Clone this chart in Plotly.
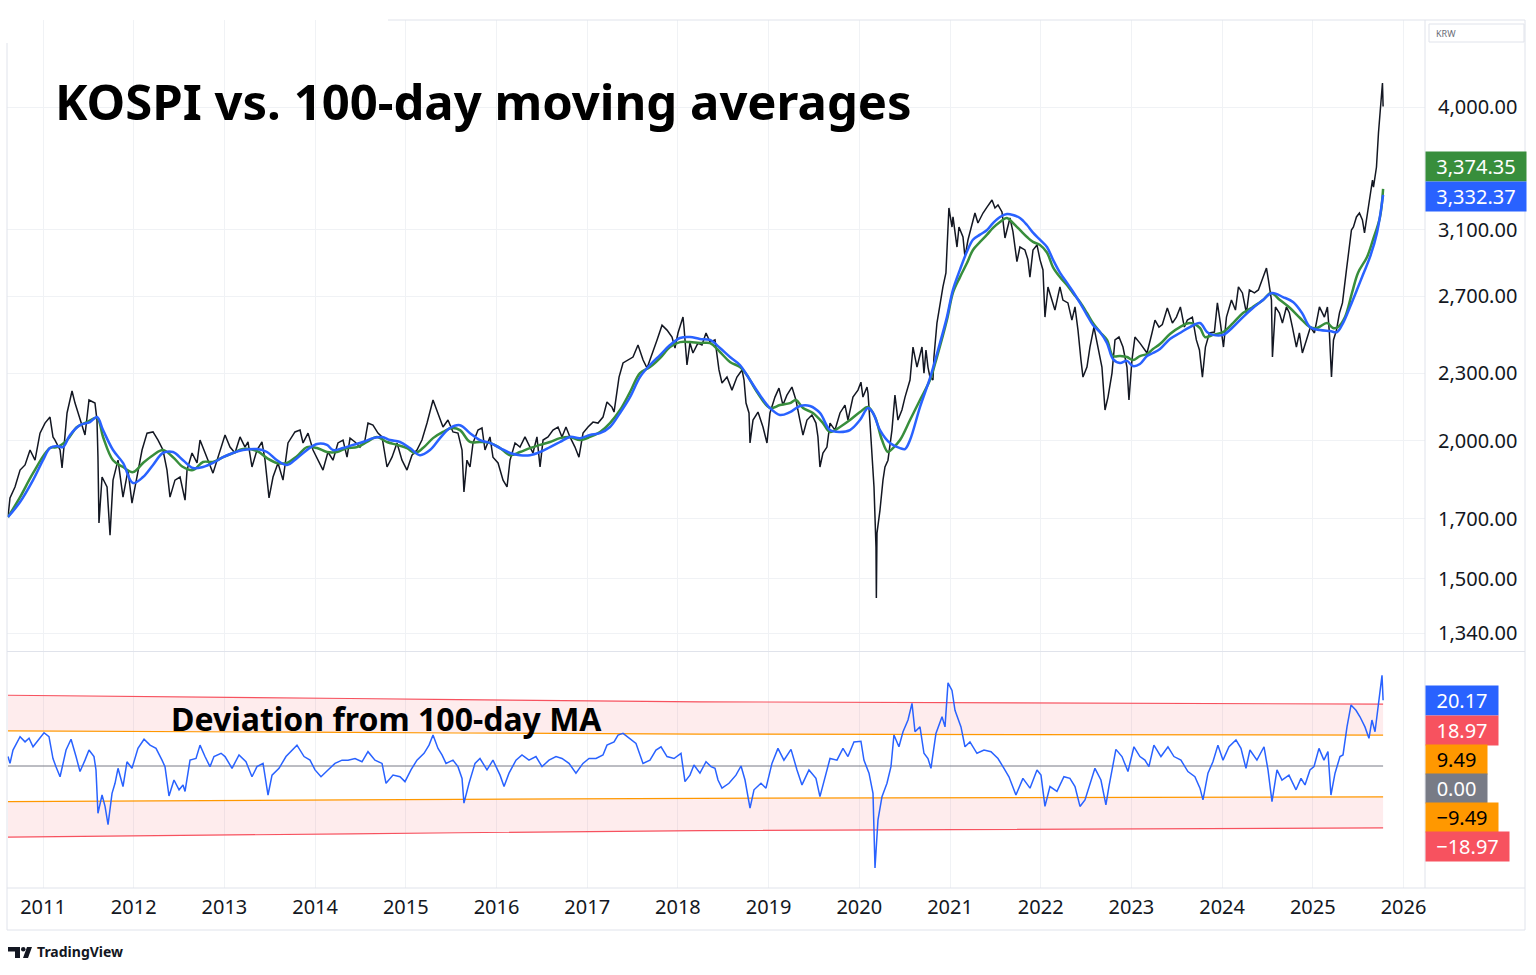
import plotly.graph_objects as go

# ---------------- data ----------------
price_dates = [
2010.614,2010.636,2010.691,2010.747,2010.802,2010.857,2010.912,2010.967,2011.022,2011.077,
2011.110,2011.132,2011.188,2011.210,2011.265,2011.320,2011.353,2011.408,2011.463,2011.507,
2011.573,2011.595,2011.606,2011.617,2011.651,2011.706,2011.739,2011.772,2011.827,2011.882,
2011.937,2011.981,2012.036,2012.092,2012.147,2012.213,2012.268,2012.323,2012.367,2012.400,
2012.455,2012.511,2012.566,2012.588,2012.643,2012.698,2012.731,2012.764,2012.819,2012.874,
2012.929,2013.007,2013.062,2013.117,2013.172,2013.227,2013.260,2013.304,2013.359,2013.414,
2013.448,2013.492,2013.536,2013.591,2013.646,2013.701,2013.778,2013.834,2013.867,2013.922,
2013.977,2014.032,2014.087,2014.142,2014.197,2014.252,2014.308,2014.352,2014.385,2014.440,
2014.495,2014.550,2014.583,2014.638,2014.693,2014.738,2014.793,2014.848,2014.903,2014.958,
2015.013,2015.068,2015.123,2015.178,2015.234,2015.300,2015.355,2015.410,2015.465,2015.520,
2015.575,2015.620,2015.641,2015.674,2015.708,2015.741,2015.796,2015.840,2015.873,2015.928,
2015.961,2016.017,2016.072,2016.116,2016.149,2016.204,2016.259,2016.314,2016.369,2016.402,
2016.446,2016.480,2016.513,2016.568,2016.623,2016.678,2016.722,2016.766,2016.810,2016.865,
2016.909,2016.954,2017.009,2017.064,2017.119,2017.174,2017.218,2017.273,2017.296,2017.329,
2017.351,2017.395,2017.450,2017.505,2017.560,2017.616,2017.660,2017.715,2017.770,2017.825,
2017.880,2017.935,2017.968,2018.001,2018.056,2018.067,2018.100,2018.133,2018.166,2018.221,
2018.265,2018.310,2018.354,2018.409,2018.431,2018.453,2018.486,2018.541,2018.596,2018.651,
2018.707,2018.729,2018.751,2018.784,2018.795,2018.828,2018.883,2018.938,2018.982,2019.015,
2019.070,2019.114,2019.158,2019.202,2019.257,2019.301,2019.345,2019.379,2019.423,2019.478,
2019.522,2019.544,2019.566,2019.599,2019.643,2019.677,2019.732,2019.787,2019.842,2019.875,
2019.930,2019.985,2020.018,2020.040,2020.085,2020.096,2020.118,2020.140,2020.162,2020.184,
2020.188,2020.195,2020.228,2020.261,2020.283,2020.316,2020.360,2020.393,2020.426,2020.470,
2020.504,2020.559,2020.592,2020.636,2020.691,2020.713,2020.735,2020.757,2020.779,2020.812,
2020.823,2020.856,2020.889,2020.922,2020.955,2020.966,2020.988,2021.022,2021.033,2021.077,
2021.099,2021.143,2021.165,2021.198,2021.242,2021.275,2021.308,2021.364,2021.408,2021.463,
2021.496,2021.529,2021.573,2021.606,2021.661,2021.694,2021.738,2021.771,2021.826,2021.859,
2021.881,2021.915,2021.959,2021.992,2022.025,2022.047,2022.080,2022.124,2022.157,2022.212,
2022.245,2022.300,2022.344,2022.378,2022.411,2022.444,2022.466,2022.510,2022.543,2022.587,
2022.631,2022.675,2022.709,2022.742,2022.786,2022.819,2022.863,2022.907,2022.951,2022.973,
2023.006,2023.039,2023.094,2023.172,2023.227,2023.260,2023.304,2023.341,2023.396,2023.452,
2023.496,2023.540,2023.584,2023.617,2023.672,2023.716,2023.750,2023.783,2023.816,2023.860,
2023.915,2023.948,2023.981,2024.015,2024.048,2024.103,2024.147,2024.180,2024.224,2024.268,
2024.301,2024.356,2024.400,2024.444,2024.489,2024.511,2024.544,2024.555,2024.588,2024.632,
2024.665,2024.709,2024.742,2024.775,2024.819,2024.852,2024.885,2024.930,2024.974,2025.018,
2025.073,2025.128,2025.161,2025.183,2025.206,2025.228,2025.261,2025.294,2025.327,2025.371,
2025.404,2025.426,2025.448,2025.481,2025.514,2025.547,2025.570,2025.592,2025.625,2025.658,
2025.669,2025.702,2025.724,2025.746,2025.768,2025.775]
price_close = [
1706,1775,1816,1881,1901,1961,1920,2031,2074,2100,
2015,2002,1961,1889,2118,2217,2162,2087,2023,2176,
2162,2087,1932,1685,1854,1816,1643,1842,1920,1778,
1881,1756,1854,1961,2031,2036,2002,1961,1881,1778,
1842,1854,1767,1881,1949,1909,2002,1973,1920,1869,
1932,2023,1973,1949,2015,1973,1994,1893,1961,1994,
1920,1775,1854,1909,1842,1990,2036,2044,1990,2031,
1961,1920,1881,1953,1920,1990,2002,1932,2010,1994,
1973,2002,2074,2065,2031,2015,1893,1932,1990,1920,
1881,1940,1961,2002,2074,2176,2118,2057,2087,2036,
2031,1961,1797,1920,1893,1990,2044,2053,1961,2015,
1932,1909,1842,1816,1920,1990,1973,2015,1973,1949,
2015,1893,2002,2015,2044,2057,2015,2057,2015,1973,
1932,2031,2057,2078,2074,2100,2167,2144,2122,2207,
2282,2350,2364,2379,2439,2364,2325,2389,2465,2542,
2516,2480,2424,2501,2585,2532,2340,2449,2399,2449,
2439,2501,2454,2465,2399,2316,2254,2282,2221,2282,
2316,2268,2162,2118,1990,2087,2122,2057,1990,2118,
2189,2230,2153,2198,2235,2176,2087,2023,2087,2109,
2074,2015,1893,1949,1973,2074,2044,2118,2153,2087,
2189,2221,2258,2189,2235,2207,2074,1961,1816,1603,
1442,1650,1731,1842,1893,1920,2044,2198,2087,2131,
2189,2268,2429,2330,2429,2301,2414,2330,2282,2268,
2379,2553,2662,2752,2833,2953,3243,3117,3183,2990,
3117,3053,2929,3034,3130,3209,3143,3209,3249,3297,
3243,3263,3216,3047,3176,3087,2901,2990,2972,2913,
2809,2972,3003,2913,2851,2585,2752,2678,2623,2752,
2678,2662,2569,2640,2516,2364,2282,2330,2429,2532,
2429,2330,2131,2189,2301,2465,2480,2429,2330,2176,
2364,2480,2449,2399,2501,2569,2532,2545,2634,2553,
2585,2640,2532,2569,2585,2465,2414,2282,2429,2501,
2506,2662,2553,2429,2585,2678,2623,2752,2718,2607,
2735,2718,2735,2792,2862,2792,2678,2379,2640,2607,
2553,2640,2607,2532,2429,2501,2399,2465,2532,2501,
2640,2585,2640,2501,2282,2465,2516,2607,2662,2851,
2990,3098,3117,3183,3209,3163,3080,3163,3276,3437,
3387,3531,3790,3975,4205,4004]

sma_dates = [
2010.614,2010.747,2010.890,2011.000,2011.077,2011.154,2011.220,2011.298,2011.408,2011.518,
2011.595,2011.662,2011.772,2011.882,2011.992,2012.103,2012.213,2012.323,2012.433,2012.544,
2012.654,2012.764,2012.874,2012.985,2013.095,2013.205,2013.359,2013.470,2013.580,2013.690,
2013.800,2013.911,2014.021,2014.131,2014.197,2014.308,2014.418,2014.528,2014.638,2014.738,
2014.826,2014.936,2015.046,2015.156,2015.267,2015.377,2015.487,2015.597,2015.708,2015.818,
2015.928,2016.039,2016.149,2016.259,2016.369,2016.480,2016.590,2016.700,2016.810,2016.921,
2017.031,2017.141,2017.251,2017.362,2017.472,2017.582,2017.692,2017.803,2017.913,2018.023,
2018.133,2018.243,2018.354,2018.464,2018.574,2018.684,2018.795,2018.905,2019.015,2019.125,
2019.236,2019.346,2019.456,2019.566,2019.677,2019.787,2019.897,2020.007,2020.096,2020.151,
2020.228,2020.338,2020.449,2020.504,2020.559,2020.669,2020.779,2020.889,2020.966,2021.033,
2021.110,2021.187,2021.253,2021.331,2021.408,2021.474,2021.551,2021.628,2021.694,2021.771,
2021.849,2021.915,2021.992,2022.069,2022.135,2022.212,2022.289,2022.355,2022.433,2022.510,
2022.576,2022.653,2022.731,2022.797,2022.874,2022.951,2023.017,2023.094,2023.172,2023.238,
2023.315,2023.425,2023.535,2023.645,2023.756,2023.833,2023.899,2024.010,2024.120,2024.230,
2024.340,2024.451,2024.550,2024.671,2024.782,2024.881,2024.969,2025.079,2025.190,2025.267,
2025.333,2025.410,2025.488,2025.554,2025.631,2025.708,2025.775]
sma_vals = [
1706,1760,1842,1920,1969,1977,1973,2023,2065,2078,
2100,2044,1961,1909,1831,1854,1901,1949,1953,1920,
1889,1893,1909,1932,1949,1961,1965,1953,1920,1901,
1928,1961,1986,1982,1961,1969,1982,1994,2010,2015,
2002,1994,1969,1940,1961,2010,2053,2065,2031,2002,
1990,1969,1949,1940,1940,1953,1973,1994,2015,2010,
2023,2031,2057,2118,2189,2282,2340,2389,2439,2475,
2480,2470,2465,2424,2379,2340,2268,2198,2140,2109,
2122,2149,2149,2118,2044,2036,2044,2087,2140,2118,
2044,1990,1969,1965,2002,2144,2277,2449,2585,2737,
2853,2962,3036,3068,3098,3143,3183,3202,3196,3176,
3130,3081,3036,2990,2913,2835,2777,2726,2662,2596,
2543,2506,2449,2369,2350,2360,2335,2345,2384,2399,
2419,2470,2501,2532,2553,2506,2491,2491,2532,2585,
2634,2678,2718,2695,2667,2607,2532,2516,2511,2506,
2553,2640,2737,2824,2929,3081,3332.37]

ema_dates = [
2010.614,2010.747,2010.890,2011.077,2011.154,2011.265,2011.375,2011.485,2011.595,2011.662,
2011.772,2011.882,2011.992,2012.103,2012.213,2012.323,2012.433,2012.544,2012.654,2012.764,
2012.874,2012.985,2013.095,2013.205,2013.359,2013.470,2013.580,2013.690,2013.800,2013.911,
2014.021,2014.131,2014.241,2014.352,2014.462,2014.572,2014.682,2014.793,2014.903,2015.013,
2015.101,2015.189,2015.300,2015.410,2015.509,2015.597,2015.708,2015.818,2015.928,2016.039,
2016.149,2016.259,2016.369,2016.480,2016.590,2016.700,2016.810,2016.921,2017.031,2017.141,
2017.251,2017.362,2017.472,2017.582,2017.692,2017.803,2017.913,2018.023,2018.133,2018.243,
2018.354,2018.464,2018.574,2018.684,2018.762,2018.872,2019.015,2019.125,2019.236,2019.301,
2019.379,2019.489,2019.599,2019.677,2019.787,2019.897,2020.007,2020.096,2020.173,2020.250,
2020.316,2020.371,2020.449,2020.559,2020.669,2020.779,2020.856,2020.966,2021.033,2021.110,
2021.187,2021.253,2021.331,2021.408,2021.474,2021.551,2021.628,2021.694,2021.771,2021.849,
2021.915,2021.992,2022.069,2022.135,2022.212,2022.289,2022.355,2022.433,2022.510,2022.576,
2022.653,2022.731,2022.797,2022.874,2022.951,2023.017,2023.094,2023.172,2023.238,2023.315,
2023.425,2023.535,2023.645,2023.756,2023.811,2023.899,2024.010,2024.120,2024.230,2024.340,
2024.451,2024.539,2024.638,2024.749,2024.859,2024.969,2025.046,2025.157,2025.223,2025.278,
2025.355,2025.432,2025.499,2025.598,2025.664,2025.741,2025.775]
ema_vals = [
1706,1778,1869,1969,1973,2002,2057,2078,2096,2015,
1920,1893,1873,1909,1940,1961,1932,1893,1881,1913,
1913,1932,1949,1965,1957,1928,1909,1909,1936,1973,
1969,1953,1953,1969,1973,1994,2015,1994,1982,1969,
1949,1969,2010,2036,2053,2044,1994,1994,1990,1969,
1940,1953,1969,1982,1994,2010,2015,2002,2015,2036,
2074,2131,2212,2301,2330,2374,2429,2454,2454,2449,
2449,2404,2355,2330,2291,2212,2140,2153,2162,2176,
2140,2118,2074,2036,2057,2087,2122,2144,2100,2002,
1953,1969,2002,2087,2176,2268,2379,2569,2720,2809,
2892,2972,3022,3068,3111,3150,3176,3143,3098,3053,
3022,3003,2956,2868,2809,2763,2718,2667,2607,2553,
2506,2465,2384,2384,2379,2364,2384,2394,2419,2444,
2496,2532,2553,2527,2480,2491,2506,2553,2607,2640,
2678,2718,2678,2634,2580,2532,2527,2553,2527,2532,
2585,2718,2835,2929,3036,3183,3374.35]

dev_dates = [
2010.614,2010.636,2010.669,2010.747,2010.802,2010.846,2010.890,2010.945,2011.011,2011.066,
2011.110,2011.143,2011.188,2011.254,2011.309,2011.364,2011.408,2011.463,2011.507,2011.562,
2011.584,2011.606,2011.651,2011.684,2011.717,2011.761,2011.794,2011.827,2011.882,2011.926,
2011.981,2012.047,2012.114,2012.180,2012.246,2012.312,2012.345,2012.389,2012.444,2012.500,
2012.544,2012.566,2012.621,2012.687,2012.731,2012.786,2012.841,2012.885,2012.963,2013.007,
2013.084,2013.161,2013.238,2013.304,2013.359,2013.426,2013.481,2013.525,2013.602,2013.679,
2013.745,2013.800,2013.878,2013.944,2013.999,2014.065,2014.142,2014.219,2014.297,2014.363,
2014.440,2014.517,2014.583,2014.660,2014.738,2014.782,2014.859,2014.936,2014.991,2015.057,
2015.123,2015.201,2015.256,2015.300,2015.355,2015.399,2015.443,2015.520,2015.575,2015.620,
2015.641,2015.697,2015.763,2015.818,2015.895,2015.961,2016.039,2016.083,2016.138,2016.215,
2016.281,2016.358,2016.435,2016.502,2016.579,2016.656,2016.722,2016.799,2016.876,2016.953,
2017.020,2017.097,2017.174,2017.218,2017.296,2017.340,2017.395,2017.461,2017.538,2017.615,
2017.692,2017.758,2017.814,2017.880,2017.957,2018.034,2018.078,2018.133,2018.177,2018.243,
2018.310,2018.365,2018.409,2018.442,2018.486,2018.563,2018.640,2018.696,2018.740,2018.795,
2018.839,2018.916,2018.971,2019.037,2019.103,2019.169,2019.247,2019.313,2019.368,2019.445,
2019.522,2019.566,2019.621,2019.677,2019.754,2019.820,2019.875,2019.941,2020.018,2020.051,
2020.107,2020.151,2020.173,2020.206,2020.250,2020.305,2020.349,2020.382,2020.437,2020.482,
2020.537,2020.581,2020.614,2020.669,2020.713,2020.757,2020.790,2020.845,2020.912,2020.945,
2020.978,2021.022,2021.055,2021.121,2021.165,2021.220,2021.297,2021.375,2021.452,2021.529,
2021.595,2021.650,2021.727,2021.804,2021.882,2021.959,2022.003,2022.047,2022.102,2022.179,
2022.256,2022.322,2022.378,2022.433,2022.488,2022.532,2022.598,2022.664,2022.719,2022.752,
2022.829,2022.896,2022.962,2023.028,2023.094,2023.149,2023.193,2023.248,2023.326,2023.403,
2023.469,2023.546,2023.623,2023.700,2023.756,2023.789,2023.844,2023.899,2023.954,2024.010,
2024.076,2024.153,2024.208,2024.263,2024.307,2024.384,2024.462,2024.506,2024.550,2024.605,
2024.660,2024.737,2024.815,2024.870,2024.914,2024.969,2025.013,2025.068,2025.123,2025.167,
2025.200,2025.245,2025.300,2025.333,2025.377,2025.421,2025.476,2025.520,2025.575,2025.619,
2025.652,2025.686,2025.730,2025.752,2025.763,2025.775]
dev_vals = [
2.9,0.8,4.9,9.0,7.4,8.5,5.9,8.0,10.2,9.0,
2.3,-0.2,-3.3,4.9,8.2,2.9,-1.7,1.8,4.9,2.9,
-1.2,-14.5,-8.9,-12.4,-18.0,-8.4,-5.3,-0.7,-6.3,1.3,
-0.7,5.4,8.2,6.4,5.4,1.8,-0.2,-9.2,-4.3,-7.3,
-5.8,-7.8,1.8,2.3,6.4,2.9,-0.2,2.9,3.9,2.9,
-0.7,3.4,1.3,-3.3,-0.2,0.8,-8.9,-2.8,-0.7,2.9,
4.9,6.4,2.9,1.8,-1.2,-3.3,-1.2,0.8,1.8,1.8,
2.3,1.3,4.4,1.8,0.8,-5.3,-2.8,-3.3,-4.8,-1.2,
1.8,3.9,6.4,9.5,5.4,3.4,0.8,1.8,-0.2,-3.8,
-11.4,-5.3,0.8,2.3,-1.2,1.8,-2.8,-6.3,-2.2,1.8,
3.4,1.8,2.9,-0.2,1.8,2.9,2.3,0.8,-2.2,0.8,
2.3,2.3,3.4,6.4,7.4,9.5,10.0,8.5,6.9,0.8,
1.8,4.9,5.9,2.9,2.3,3.9,-4.8,-2.8,0.3,-2.2,
1.3,-0.2,-0.7,-4.3,-6.8,-5.3,-2.8,0.0,-4.3,-12.9,
-7.3,-5.3,-6.8,0.8,5.4,1.8,5.1,-1.2,-5.8,-1.2,
-3.8,-9.4,-3.3,2.3,1.8,5.4,2.9,7.4,7.6,1.8,
-2.2,-8.4,-31.3,-16.5,-9.4,-5.3,-0.2,9.5,5.9,10.5,
14.1,19.2,10.5,12.0,3.9,2.3,-0.7,10.0,15.1,12.0,
25.5,23.2,17.1,12.0,5.9,7.4,3.9,4.9,4.4,2.3,
-0.7,-3.3,-8.9,-3.8,-6.8,-1.2,-2.8,-12.4,-6.3,-7.8,
-3.3,-3.8,-6.3,-12.4,-10.4,-6.8,-0.7,-4.3,-11.9,-6.3,
5.1,2.9,-1.7,5.9,2.9,1.8,-0.2,6.4,2.9,5.9,
2.9,1.8,-1.7,-3.3,-6.8,-10.4,-2.2,1.3,6.4,1.8,
5.9,8.0,5.4,-0.7,4.9,1.8,5.9,-1.2,-10.9,-1.2,
-4.3,-2.8,-7.3,-3.8,-5.8,-1.2,-0.2,5.4,1.8,4.4,
-8.9,-2.2,2.9,3.4,12.0,18.7,17.1,15.1,12.0,8.5,
14.1,10.5,20.2,24.3,27.8,20.17]

band_dates = [2010.614, 2014.385, 2018.243, 2025.775]
band_upper_outer = [21.7, 20.7, 19.7, 18.97]
band_upper_inner = [10.8, 10.3, 9.8, 9.49]
band_lower_inner = [-10.9, -10.4, -9.9, -9.49]
band_lower_outer = [-21.8, -20.8, -19.8, -18.97]
zero_dates = [2010.614, 2025.775]
zero_vals = [0.0, 0.0]

year_ticks = list(range(2011, 2027))
year_labels = [str(y) for y in year_ticks]
price_ticks = [1340, 1500, 1700, 2000, 2300, 2700, 3100, 4000]
price_tick_labels = ["1,340.00", "1,500.00", "1,700.00", "2,000.00", "2,300.00",
                     "2,700.00", "3,100.00", "4,000.00"]

# ---------------- layout geometry ----------------
W, H = 1536, 975
L, R, T, B = 7, 111, 20, 87
PW, PH = W - L - R, H - T - B
def px(x):  # pixel x -> paper
    return (x - L) / PW
def py(y):  # pixel y -> paper
    return (H - B - y) / PH

FONT = "Noto Sans"
TXT = "#131722"
GRID = "#F0F2F5"
FRAME = "#E0E3EB"
BLUE = "#2962FF"
GREEN = "#388E3C"
RED = "#F7525F"
ORANGE = "#FF9800"
GRAY = "#787B86"

fig = go.Figure()

# price pane
fig.add_trace(go.Scatter(x=price_dates, y=price_close, mode="lines",
                         line=dict(color=TXT, width=1.5), xaxis="x2", yaxis="y2",
                         hoverinfo="skip", showlegend=False))
fig.add_trace(go.Scatter(x=ema_dates, y=ema_vals, mode="lines", line_shape="spline",
                         line=dict(color=GREEN, width=2.5), xaxis="x2", yaxis="y2",
                         showlegend=False))
fig.add_trace(go.Scatter(x=sma_dates, y=sma_vals, mode="lines", line_shape="spline",
                         line=dict(color=BLUE, width=2.5), xaxis="x2", yaxis="y2",
                         showlegend=False))

# deviation pane
fig.add_trace(go.Scatter(x=band_dates, y=band_upper_outer, mode="lines", line_shape="spline",
                         line=dict(color=RED, width=1.2), xaxis="x", yaxis="y", showlegend=False))
fig.add_trace(go.Scatter(x=band_dates, y=band_upper_inner, mode="lines", line_shape="spline",
                         line=dict(color=ORANGE, width=1.2), fill="tonexty",
                         fillcolor="rgba(247,82,95,0.11)", xaxis="x", yaxis="y", showlegend=False))
fig.add_trace(go.Scatter(x=band_dates, y=band_lower_inner, mode="lines", line_shape="spline",
                         line=dict(color=ORANGE, width=1.2), xaxis="x", yaxis="y", showlegend=False))
fig.add_trace(go.Scatter(x=band_dates, y=band_lower_outer, mode="lines", line_shape="spline",
                         line=dict(color=RED, width=1.2), fill="tonexty",
                         fillcolor="rgba(247,82,95,0.11)", xaxis="x", yaxis="y", showlegend=False))
fig.add_trace(go.Scatter(x=zero_dates, y=zero_vals, mode="lines",
                         line=dict(color=GRAY, width=1), xaxis="x", yaxis="y", showlegend=False))
fig.add_trace(go.Scatter(x=dev_dates, y=dev_vals, mode="lines",
                         line=dict(color=BLUE, width=1.5), xaxis="x", yaxis="y", showlegend=False))

x0 = 2010.603
x1 = 2026.237
price_dom = [py(651), 1.0]
dev_dom = [0.0, py(652)]

fig.update_layout(
    width=W, height=H,
    margin=dict(l=L, r=R, t=T, b=B, pad=0),
    paper_bgcolor="white", plot_bgcolor="white",
    font=dict(family=FONT, color=TXT),
    showlegend=False,
    xaxis=dict(domain=[0, 1], range=[x0, x1], anchor="y",
               tickmode="array", tickvals=year_ticks, ticktext=year_labels,
               tickfont=dict(size=20, color=TXT, family=FONT), ticks="",
               ticklabelstandoff=5,
               showgrid=True, gridcolor=GRID, gridwidth=1, zeroline=False, showline=False),
    xaxis2=dict(domain=[0, 1], range=[x0, x1], anchor="y2", matches="x",
                tickmode="array", tickvals=year_ticks, showticklabels=False, ticks="",
                showgrid=True, gridcolor=GRID, gridwidth=1, zeroline=False, showline=False),
    yaxis=dict(domain=dev_dom, range=[-37.42, 34.97], anchor="x",
               showticklabels=False, showgrid=False, zeroline=False, ticks=""),
    yaxis2=dict(domain=price_dom, type="log",
                range=[3.11109, 3.68058], anchor="x2", side="right",
                tickmode="array", tickvals=price_ticks, ticktext=price_tick_labels,
                tickfont=dict(size=20, color=TXT, family=FONT), ticks="",
                ticklabelstandoff=12,
                showgrid=True, gridcolor=GRID, gridwidth=1, zeroline=False, showline=False),
)

shapes = []
# mask the upper-left corner (chart starts lower there)
shapes.append(dict(type="rect", xref="paper", yref="paper", x0=px(0), x1=px(388),
                   y0=py(43), y1=py(0), fillcolor="white", line=dict(width=0), layer="between"))
def hline(y, xa, xb):
    shapes.append(dict(type="line", xref="paper", yref="paper", x0=px(xa), x1=px(xb),
                       y0=py(y), y1=py(y), line=dict(color=FRAME, width=1), layer="above"))
def vline(x, ya, yb):
    shapes.append(dict(type="line", xref="paper", yref="paper", x0=px(x), x1=px(x),
                       y0=py(ya), y1=py(yb), line=dict(color=FRAME, width=1), layer="above"))
hline(20, 388, 1525)
hline(651.5, 7, 1525)
hline(888, 7, 1525)
hline(930, 7, 1525)
vline(7, 43, 930)
vline(1425, 20, 888)
vline(1525, 20, 930)
# KRW box
shapes.append(dict(type="rect", xref="paper", yref="paper", x0=px(1429), x1=px(1524),
                   y0=py(42), y1=py(24), fillcolor="white",
                   line=dict(color=FRAME, width=1), layer="above"))
# TradingView logo glyph
shapes.append(dict(type="rect", xref="paper", yref="paper", x0=px(8), x1=px(20),
                   y0=py(951.5), y1=py(947), fillcolor=TXT, line=dict(width=0), layer="above"))
shapes.append(dict(type="rect", xref="paper", yref="paper", x0=px(15), x1=px(20),
                   y0=py(958), y1=py(947), fillcolor=TXT, line=dict(width=0), layer="above"))
shapes.append(dict(type="circle", xref="paper", yref="paper", x0=px(21), x1=px(25.5),
                   y0=py(951.5), y1=py(947), fillcolor=TXT, line=dict(width=0), layer="above"))
pts = [(27, 947), (32, 947), (28, 958), (23, 958)]
path = "M " + " L ".join(f"{px(a)},{py(b)}" for a, b in pts) + " Z"
shapes.append(dict(type="path", xref="paper", yref="paper", path=path, fillcolor=TXT,
                   line=dict(width=0), layer="above"))
fig.update_layout(shapes=shapes)

ann = []
ann.append(dict(text="<b>KOSPI vs. 100-day moving averages</b>", xref="paper", yref="paper",
                x=px(53), y=py(101), xanchor="left", yanchor="middle", showarrow=False,
                font=dict(size=49, color="black", family=FONT)))
ann.append(dict(text="<b>Deviation from 100-day MA</b>", xref="paper", yref="paper",
                x=px(169), y=py(718), xanchor="left", yanchor="middle", showarrow=False,
                font=dict(size=32, color="black", family=FONT)))

def box_label(text, ycen, bg, fg, w):
    ann.append(dict(text=text, xref="paper", yref="paper", x=px(1425), y=py(ycen),
                    xanchor="left", yanchor="middle", showarrow=False,
                    bgcolor=bg, font=dict(size=20, color=fg, family=FONT),
                    width=w - 4, height=25, borderpad=2, align="center"))

box_label("3,374.35", 167, GREEN, "white", 100)
box_label("3,332.37", 197, BLUE, "white", 100)
box_label("20.17", 700, BLUE, "white", 72)
box_label("18.97", 730, "#F7525F", "white", 72)
box_label("9.49", 759, ORANGE, "black", 61)
box_label("0.00", 788, GRAY, "white", 61)
box_label("\u22129.49", 817, ORANGE, "black", 72)
box_label("\u221218.97", 846.5, "#F7525F", "white", 83)

ann.append(dict(text="KRW", xref="paper", yref="paper", x=px(1434), y=py(33),
                xanchor="left", yanchor="middle", showarrow=False,
                font=dict(size=9, color="#6A6D78", family=FONT)))
ann.append(dict(text="<b>TradingView</b>", xref="paper", yref="paper", x=px(35), y=py(952),
                xanchor="left", yanchor="middle", showarrow=False,
                font=dict(size=14, color=TXT, family=FONT)))
fig.update_layout(annotations=ann)

fig.write_html("out.html", config={"displayModeBar": False},
               post_script="document.body.style.margin='0px';document.body.style.overflow='hidden';")
